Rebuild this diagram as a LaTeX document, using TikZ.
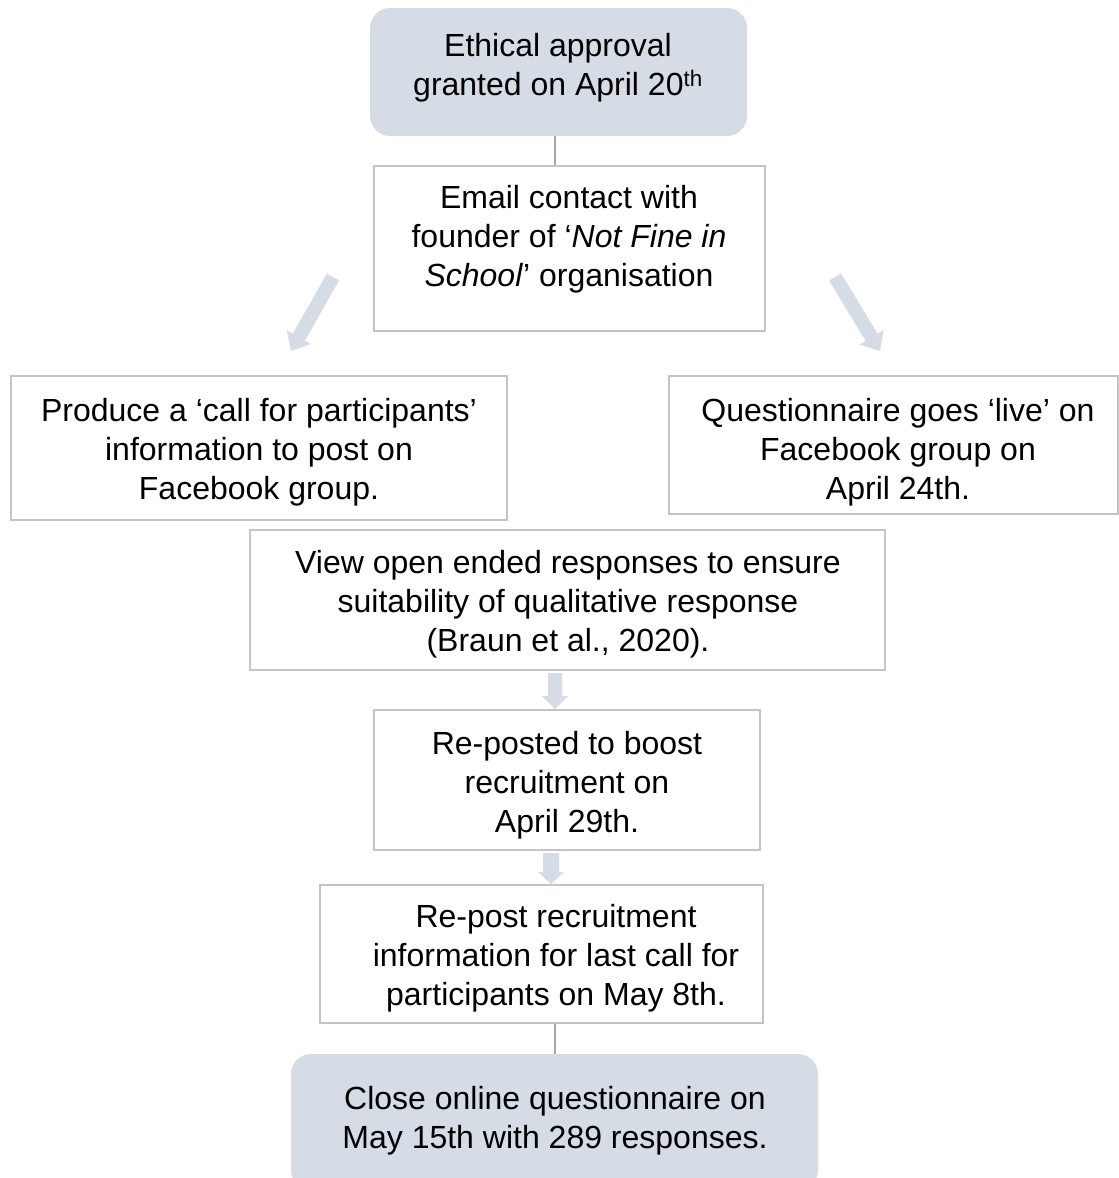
\documentclass[tikz,border=0pt]{standalone}
\usepackage{fontspec}
\setmainfont{Liberation Sans}
\usetikzlibrary{calc}

\definecolor{stepfill}{RGB}{214,220,229}
\definecolor{stepline}{RGB}{196,196,196}
\definecolor{linkline}{RGB}{166,166,166}

% broad filled arrow from #1 to #2: shaft half-width #3, head half-width #4, head length #5
\newcommand{\flowarrow}[5]{%
  \coordinate (fa-h) at ($(#2)!#5!(#1)$);
  \fill[stepfill] ($(#1)!#3!90:(#2)$) -- ($(fa-h)!#3!90:(#2)$) -- ($(fa-h)!#4!90:(#2)$)
    -- (#2) -- ($(fa-h)!#4!-90:(#2)$) -- ($(fa-h)!#3!-90:(#2)$) -- ($(#1)!#3!-90:(#2)$) -- cycle;}

\begin{document}
\begin{tikzpicture}[x=1pt,y=-1pt,
  stepbox/.style={draw=stepline,line width=2pt,fill=white,inner sep=0pt},
  endbox/.style={fill=stepfill,rounded corners=20pt,inner sep=0pt},
  steptext/.style={anchor=north,inner sep=0pt,align=center,font=\fontsize{32}{39}\selectfont},
  link/.style={draw=linkline,line width=2pt}]

\clip (0,0) rectangle (1119,1178);

% boxes
\node[endbox, minimum width=377, minimum height=128] (approval) at (558.5,72) {};
\node[stepbox, minimum width=391, minimum height=165] (email) at (569.5,248.5) {};
\node[stepbox, minimum width=496, minimum height=144] (produce) at (259,448) {};
\node[stepbox, minimum width=449, minimum height=138] (live) at (893.5,445) {};
\node[stepbox, minimum width=635, minimum height=140] (view) at (567.5,600) {};
\node[stepbox, minimum width=386, minimum height=140] (reposted) at (567,780) {};
\node[stepbox, minimum width=443, minimum height=138] (lastcall) at (541.5,954) {};
\node[endbox, minimum width=527, minimum height=136] (close) at (554.5,1122) {};

% texts
\node[steptext] (tApproval) at (558,33) {Ethical approval\\granted on April 20\textsuperscript{th}};
\node[steptext] (tEmail) at (569,185) {Email contact with\\founder of ‘\textit{Not Fine in}\\\textit{School}’ organisation};
\node[steptext] (tProduce) at (259,398) {Produce a ‘call for participants’\\information to post on\\Facebook group.};
\node[steptext] (tLive) at (898,398) {Questionnaire goes ‘live’ on\\Facebook group on\\April 24th.};
\node[steptext] (tView) at (568,550) {View open ended responses to ensure\\suitability of qualitative response\\(Braun et al., 2020).};
\node[steptext] (tReposted) at (567,731) {Re-posted to boost\\recruitment on\\April 29th.};
\node[steptext] (tLastcall) at (556,904) {Re-post recruitment\\information for last call for\\participants on May 8th.};
\node[steptext] (tClose) at (555,1086) {Close online questionnaire on\\May 15th with 289 responses.};

% arrow columns and free ends
\coordinate (colA) at (555,0);
\coordinate (colB) at (551,0);
\coordinate (leftS) at (333,277);
\coordinate (leftE) at (291,351);
\coordinate (rightS) at (835,277);
\coordinate (rightE) at (880,351);
\coordinate (downAs) at ($(view.south -| colA)+(0,2)$);
\coordinate (downAe) at (reposted.north -| colA);
\coordinate (downBs) at ($(reposted.south -| colB)+(0,2)$);
\coordinate (downBe) at (lastcall.north -| colB);

% plain connectors
\draw[link] (approval.south -| colA) -- (email.north -| colA);
\draw[link] (close.north |- lastcall.south) -- (close.north);

% broad arrows
\flowarrow{leftS}{leftE}{7pt}{14pt}{16pt}
\flowarrow{rightS}{rightE}{7pt}{14pt}{16pt}
\flowarrow{downAs}{downAe}{7pt}{13pt}{13pt}
\flowarrow{downBs}{downBe}{8pt}{13pt}{12pt}
\end{tikzpicture}
\end{document}
